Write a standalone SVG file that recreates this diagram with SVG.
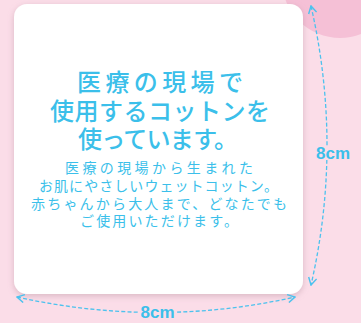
<svg xmlns="http://www.w3.org/2000/svg" width="361" height="323" viewBox="0 0 361 323">
<defs>
<style>
.ttl{font-family:"Noto Sans CJK JP","Noto Sans",sans-serif;font-size:24px;fill:#3bbfea;text-anchor:middle;font-weight:500}
.body{font-family:"Noto Sans CJK JP","Noto Sans",sans-serif;font-size:14px;fill:#3bbfea;text-anchor:middle}
.dim{fill:none;stroke:#4cc2ee;stroke-width:1.3;stroke-dasharray:4 2.2}
.lbl{font-family:"Liberation Sans",Arial,sans-serif;font-size:17px;font-weight:bold;fill:#3bbfea;text-anchor:middle}
</style>
<marker id="arr" viewBox="0 0 10 10" refX="9" refY="5" markerWidth="9" markerHeight="9" markerUnits="userSpaceOnUse" orient="auto-start-reverse">
<path d="M1,0.5 L9,5 L1,9.5" fill="none" stroke="#4cc2ee" stroke-width="1.6"/>
</marker>
<filter id="sh" x="-10%" y="-10%" width="120%" height="120%">
<feDropShadow dx="0" dy="2" stdDeviation="3" flood-color="#b08a98" flood-opacity="0.45"/>
</filter>
</defs>
<rect width="361" height="323" fill="#fbdde8"/>
<circle cx="340" cy="-20" r="58" fill="#f5c0d6"/>
<g id="card">
<rect x="14" y="4" width="289" height="290" rx="13" fill="#ffffff" filter="url(#sh)"/>
<text class="ttl" x="160" y="91" textLength="166">医療の現場で</text>
<text class="ttl" x="160" y="120" textLength="220">使用するコットンを</text>
<text class="ttl" x="158" y="148" textLength="160">使っています。</text>
<text class="body" x="159" y="173" textLength="188">医療の現場から生まれた</text>
<text class="body" x="158.5" y="191" textLength="239">お肌にやさしいウェットコットン。</text>
<text class="body" x="159" y="209" textLength="256">赤ちゃんから大人まで、どなたでも</text>
<text class="body" x="159" y="226" textLength="158">ご使用いただけます。</text>
</g>
<g id="connectors">
<path class="dim" d="M311,6 Q343,146 311,285" marker-start="url(#arr)" marker-end="url(#arr)"/>
<path class="dim" d="M17,297 Q157,328 295,297" marker-start="url(#arr)" marker-end="url(#arr)"/>
</g>
<g id="label-v">
<rect x="315" y="146" width="36" height="14" fill="#fbdde8"/>
<text class="lbl" x="333" y="159">8cm</text>
</g>
<g id="label-h">
<rect x="139" y="304" width="37" height="15" fill="#fbdde8"/>
<text class="lbl" x="157.5" y="318">8cm</text>
</g>
</svg>
